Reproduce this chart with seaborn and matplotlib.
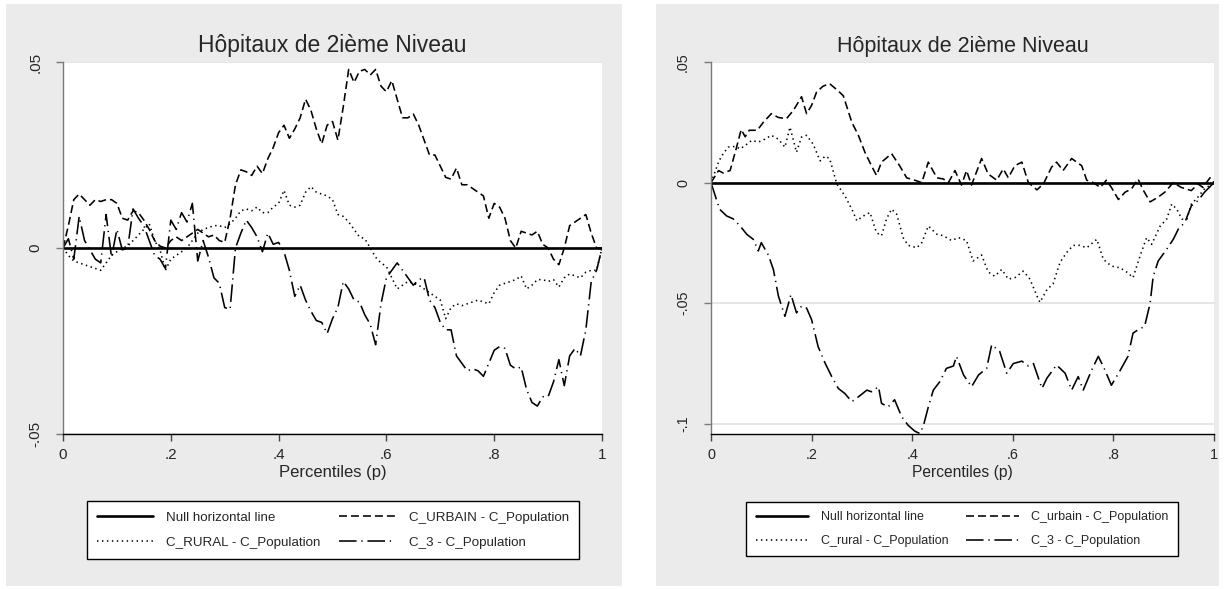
import numpy as np
import matplotlib
matplotlib.use("Agg")
import matplotlib.pyplot as plt
from matplotlib.patches import Rectangle
import seaborn as sns

# percentiles (left panel read every 0.01)
p_left = np.linspace(0, 1, 101)

urbain_left = [0, 0.006, 0.013, 0.0145, 0.013, 0.0115, 0.013, 0.0125, 0.013, 0.013,
               0.012, 0.008, 0.0075, 0.010, 0.0095, 0.0075, 0.005, 0.002, 0.0005, 0,
               0.002, 0.003, 0.002, 0.003, 0.004, 0.005, 0.004, 0.003, 0.0035, 0.002,
               0.0015, 0.008, 0.017, 0.021, 0.0205, 0.0195, 0.022, 0.020, 0.024, 0.027,
               0.031, 0.033, 0.0295, 0.032, 0.035, 0.040, 0.037, 0.032, 0.028, 0.033,
               0.034, 0.029, 0.038, 0.048, 0.0445, 0.0475, 0.048, 0.0465, 0.048, 0.0435,
               0.042, 0.045, 0.040, 0.035, 0.035, 0.036, 0.033, 0.029, 0.025, 0.025,
               0.022, 0.019, 0.0185, 0.0215, 0.017, 0.017, 0.016, 0.015, 0.014, 0.008,
               0.012, 0.011, 0.008, 0.002, 0, 0.0045, 0.004, 0.0035, 0.0045, 0.001,
               0, -0.003, -0.0045, 0, 0.006, 0.007, 0.008, 0.009, 0.004, 0,
               0]

rural_left = [0, -0.002, -0.0035, -0.004, -0.0045, -0.005, -0.0055, -0.006, -0.004, -0.002,
              -0.001, 0, 0.0005, 0.002, 0.0035, 0.005, 0.0065, 0.002, -0.0005, -0.006,
              -0.003, -0.002, -0.001, 0, 0.002, 0.004, 0.005, 0.0055, 0.006, 0.006,
              0.0055, 0.0065, 0.008, 0.010, 0.0105, 0.010, 0.011, 0.0095, 0.0095, 0.011,
              0.012, 0.0155, 0.0115, 0.011, 0.0115, 0.015, 0.0165, 0.015, 0.0145, 0.014,
              0.013, 0.009, 0.0085, 0.007, 0.005, 0.003, 0.0025, 0, -0.0025, -0.004,
              -0.005, -0.008, -0.011, -0.010, -0.009, -0.0095, -0.010, -0.011, -0.012, -0.013,
              -0.014, -0.019, -0.016, -0.015, -0.0155, -0.015, -0.0145, -0.014, -0.0145, -0.015,
              -0.012, -0.010, -0.0095, -0.009, -0.0085, -0.0075, -0.011, -0.010, -0.0085, -0.0085,
              -0.009, -0.0085, -0.0105, -0.008, -0.007, -0.0075, -0.008, -0.0065, -0.006, -0.006,
              0]

c3_left = [0, 0.0025, -0.003, 0.0085, 0.002, -0.0005, -0.003, -0.004, 0.009, -0.0025,
           0.005, -0.0005, 0, 0.0105, 0.008, 0.006, 0.002, -0.002, -0.003, -0.0055,
           0.0075, 0.005, 0.0095, 0.007, 0.012, -0.0035, 0.002, -0.0025, -0.008, -0.0095,
           -0.016, -0.0165, 0, 0.004, 0.0075, 0.0055, 0.003, -0.001, 0.004, 0.001,
           0.0015, -0.001, -0.006, -0.013, -0.010, -0.014, -0.017, -0.0195, -0.020, -0.023,
           -0.019, -0.016, -0.009, -0.011, -0.014, -0.0145, -0.018, -0.0205, -0.026, -0.015,
           -0.008, -0.006, -0.004, -0.006, -0.008, -0.010, -0.0085, -0.008, -0.014, -0.016,
           -0.020, -0.022, -0.022, -0.029, -0.031, -0.033, -0.0325, -0.033, -0.0345, -0.031,
           -0.0275, -0.0265, -0.027, -0.0315, -0.0325, -0.032, -0.038, -0.0415, -0.0425, -0.040,
           -0.040, -0.036, -0.030, -0.037, -0.029, -0.027, -0.029, -0.022, -0.009, -0.006,
           0]

# right panel, read at the visible corners
p_urbain_right = [0, 0.015, 0.024, 0.038, 0.05, 0.06, 0.068, 0.076, 0.092, 0.104,
                  0.12, 0.134, 0.15, 0.164, 0.18, 0.19, 0.2, 0.21, 0.223, 0.236,
                  0.253, 0.263, 0.28, 0.293, 0.306, 0.319, 0.329, 0.339, 0.359, 0.375,
                  0.389, 0.405, 0.419, 0.432, 0.449, 0.462, 0.472, 0.485, 0.498, 0.508,
                  0.518, 0.538, 0.551, 0.568, 0.581, 0.591, 0.604, 0.618, 0.631, 0.648,
                  0.661, 0.677, 0.687, 0.7, 0.717, 0.727, 0.737, 0.747, 0.76, 0.774,
                  0.786, 0.796, 0.81, 0.823, 0.836, 0.849, 0.859, 0.873, 0.889, 0.902,
                  0.919, 0.935, 0.955, 0.968, 0.978, 0.992, 1.0]
urbain_right = [0, 0.005, 0.004, 0.005, 0.014, 0.022, 0.019, 0.0217, 0.0217, 0.025,
                0.0286, 0.027, 0.0265, 0.030, 0.0356, 0.0286, 0.032, 0.0376, 0.040, 0.041,
                0.038, 0.036, 0.025, 0.0196, 0.0126, 0.007, 0.003, 0.0085, 0.012, 0.007,
                0.002, 0.001, 0.0, 0.0085, 0.002, 0.0015, 0.0, 0.005, -0.001, 0.005,
                -0.001, 0.010, 0.0036, 0.001, 0.0057, 0.002, 0.007, 0.0085, 0.0, -0.003,
                -0.0005, 0.0064, 0.0085, 0.005, 0.010, 0.0085, 0.007, 0.001, 0.0, -0.002,
                0.001, -0.002, -0.007, -0.004, -0.0026, 0.0015, -0.003, -0.008, -0.006, -0.004,
                0.0, -0.002, -0.0033, -0.0005, -0.002, 0.002, 0.0]

p_rural_right = [0, 0.015, 0.021, 0.034, 0.048, 0.058, 0.068, 0.081, 0.094, 0.107,
                 0.12, 0.134, 0.147, 0.157, 0.17, 0.18, 0.19, 0.203, 0.217, 0.227,
                 0.236, 0.25, 0.266, 0.28, 0.29, 0.303, 0.316, 0.329, 0.339, 0.349,
                 0.359, 0.369, 0.382, 0.392, 0.409, 0.419, 0.432, 0.449, 0.462, 0.478,
                 0.492, 0.508, 0.521, 0.538, 0.551, 0.564, 0.578, 0.591, 0.604, 0.621,
                 0.634, 0.648, 0.654, 0.668, 0.68, 0.694, 0.707, 0.72, 0.733, 0.747,
                 0.767, 0.78, 0.796, 0.813, 0.829, 0.839, 0.853, 0.866, 0.876, 0.893,
                 0.906, 0.916, 0.926, 0.936, 0.946, 0.955, 0.968, 0.981, 1.0]
rural_right = [0, 0.0085, 0.011, 0.0147, 0.015, 0.014, 0.0154, 0.0175, 0.0168, 0.018,
               0.0196, 0.018, 0.0147, 0.023, 0.0126, 0.0189, 0.0196, 0.016, 0.009, 0.011,
               0.0099, -0.0005, -0.0054, -0.011, -0.0158, -0.0138, -0.0124, -0.0207, -0.022, -0.015,
               -0.011, -0.013, -0.0228, -0.026, -0.027, -0.0249, -0.018, -0.0214, -0.022, -0.024,
               -0.0228, -0.024, -0.0325, -0.030, -0.037, -0.0388, -0.036, -0.040, -0.0394, -0.0367,
               -0.040, -0.047, -0.0496, -0.0443, -0.042, -0.033, -0.029, -0.026, -0.026, -0.027,
               -0.0235, -0.0318, -0.0346, -0.0353, -0.0374, -0.0394, -0.0304, -0.0228, -0.0256, -0.018,
               -0.0151, -0.0089, -0.011, -0.0151, -0.0151, -0.0089, -0.006, -0.0026, 0]

p_c3_right = [0, 0.017, 0.031, 0.044, 0.058, 0.071, 0.084, 0.094, 0.1, 0.114,
              0.124, 0.134, 0.147, 0.159, 0.17, 0.18, 0.19, 0.2, 0.213, 0.227,
              0.24, 0.253, 0.266, 0.28, 0.293, 0.31, 0.319, 0.333, 0.339, 0.352,
              0.365, 0.379, 0.392, 0.405, 0.415, 0.422, 0.432, 0.442, 0.455, 0.468,
              0.482, 0.488, 0.502, 0.518, 0.532, 0.548, 0.558, 0.574, 0.588, 0.601,
              0.618, 0.631, 0.641, 0.658, 0.668, 0.687, 0.704, 0.717, 0.73, 0.74,
              0.757, 0.77, 0.783, 0.796, 0.813, 0.829, 0.839, 0.849, 0.862, 0.873,
              0.879, 0.889, 0.906, 0.919, 0.929, 0.942, 0.955, 0.968, 0.981, 1.0]
c3_right = [0, -0.011, -0.0138, -0.015, -0.018, -0.0214, -0.0235, -0.0283, -0.0249, -0.030,
            -0.036, -0.047, -0.0554, -0.0464, -0.054, -0.0512, -0.052, -0.0568, -0.068, -0.0749,
            -0.0804, -0.0853, -0.0874, -0.0908, -0.0888, -0.086, -0.0867, -0.0846, -0.0915, -0.093,
            -0.090, -0.097, -0.1006, -0.103, -0.104, -0.101, -0.093, -0.086, -0.0825, -0.077,
            -0.076, -0.072, -0.0797, -0.0846, -0.0797, -0.077, -0.0672, -0.070, -0.079, -0.075,
            -0.074, -0.076, -0.075, -0.0853, -0.081, -0.0756, -0.079, -0.086, -0.0804, -0.086,
            -0.0776, -0.072, -0.0776, -0.084, -0.078, -0.072, -0.0624, -0.061, -0.0596, -0.050,
            -0.039, -0.0325, -0.0276, -0.0235, -0.0193, -0.0165, -0.0096, -0.0075, -0.004, 0]

title = "Hôpitaux de 2ième Niveau"
x_ticks = [0, 0.2, 0.4, 0.6, 0.8, 1]
x_ticklabels = ["0", ".2", ".4", ".6", ".8", "1"]
y_ticks_left = [-0.05, 0, 0.05]
y_ticklabels_left = ["-.05", "0", ".05"]
y_ticks_right = [-0.1, -0.05, 0, 0.05]
y_ticklabels_right = ["-.1", "-.05", "0", ".05"]
labels_left = ["Null horizontal line", "C_RURAL - C_Population",
               "C_URBAIN - C_Population", "C_3 - C_Population"]
labels_right = ["Null horizontal line", "C_rural - C_Population",
                "C_urbain - C_Population", "C_3 - C_Population"]

sns.set_theme(style="white")
plt.rcParams["font.family"] = ["Liberation Sans", "DejaVu Sans"]

W, H = 1228, 589
fig = plt.figure(figsize=(W / 100, H / 100), dpi=100)
fig.patch.set_facecolor("white")

# grey graph regions (behind the axes)
for x0, x1, y0, y1 in [(6, 622, 4, 586), (656, 1219, 4, 586)]:
    fig.add_artist(Rectangle((x0 / W, 1 - y1 / H), (x1 - x0) / W, (y1 - y0) / H,
                             transform=fig.transFigure, facecolor="#ebebeb",
                             edgecolor="none", zorder=-10))

ax1 = fig.add_axes([63 / W, 1 - 434 / H, 539 / W, 372 / H])
ax2 = fig.add_axes([711 / W, 1 - 434 / H, 503 / W, 372 / H])

styles = {
    "dash": (0, (5, 2.5)),
    "dot": (0, (0.9, 2.2)),
    "dashdot": (0, (11, 3, 0.8, 3)),
}


def draw_panel(ax, series, labels, yticks, yticklabels, ylim, k, legend_center):
    sns.lineplot(x=[0, 1], y=[0, 0], ax=ax, color="black", lw=1.9,
                 estimator=None, label=labels[0])
    for (px, py, ls), lab in zip(series, labels[1:]):
        sns.lineplot(x=px, y=py, ax=ax, color="black", lw=1.15, linestyle=styles[ls],
                     estimator=None, sort=False, label=lab)
    handles = ax.get_lines()
    ax.set_xlim(0, 1)
    ax.set_ylim(*ylim)
    ax.set_facecolor("white")
    ax.set_xticks(x_ticks)
    ax.set_xticklabels(x_ticklabels)
    ax.set_yticks(yticks)
    ax.set_yticklabels(yticklabels, rotation=90, va="center")
    ax.yaxis.grid(True, color="#e4e4e4", lw=1.3)
    ax.xaxis.grid(False)
    ax.set_axisbelow(True)
    for side in ["top", "right"]:
        ax.spines[side].set_visible(False)
    ax.spines["left"].set_color("#7a7a7a")
    ax.spines["bottom"].set_color("black")
    ax.spines["left"].set_linewidth(1.0)
    ax.spines["bottom"].set_linewidth(1.0)
    ax.tick_params(axis="y", direction="out", length=5, width=1, color="#7a7a7a",
                   labelsize=11 * k, pad=10, left=True)
    ax.tick_params(axis="x", direction="out", length=5, width=1, color="#444444",
                   labelsize=11 * k, pad=5, bottom=True)
    ax.set_xlabel("Percentiles (p)", fontsize=12 * k, labelpad=2)
    ax.set_ylabel("")
    ax.set_title(title, fontsize=16.5 * k, pad=7)
    fs = 9.6 * k
    ax.legend(handles=handles, labels=labels, ncol=2, loc="center",
              bbox_to_anchor=legend_center, bbox_transform=fig.transFigure,
              frameon=True, fancybox=False, edgecolor="black", facecolor="white",
              framealpha=1, fontsize=fs, handlelength=4.2, handletextpad=1.0,
              columnspacing=1.4, labelspacing=0.95, borderpad=0.75)
    ax.get_legend().get_frame().set_linewidth(1.0)


draw_panel(ax1,
           [(p_left, rural_left, "dot"), (p_left, urbain_left, "dash"), (p_left, c3_left, "dashdot")],
           labels_left, y_ticks_left, y_ticklabels_left, (-0.05, 0.05), 1.0,
           (333 / W, 1 - 530 / H))
draw_panel(ax2,
           [(p_rural_right, rural_right, "dot"), (p_urbain_right, urbain_right, "dash"),
            (p_c3_right, c3_right, "dashdot")],
           labels_right, y_ticks_right, y_ticklabels_right, (-0.1042, 0.05), 0.94,
           (962 / W, 1 - 529 / H))

plt.savefig("out.png", dpi=100, facecolor=fig.get_facecolor())
